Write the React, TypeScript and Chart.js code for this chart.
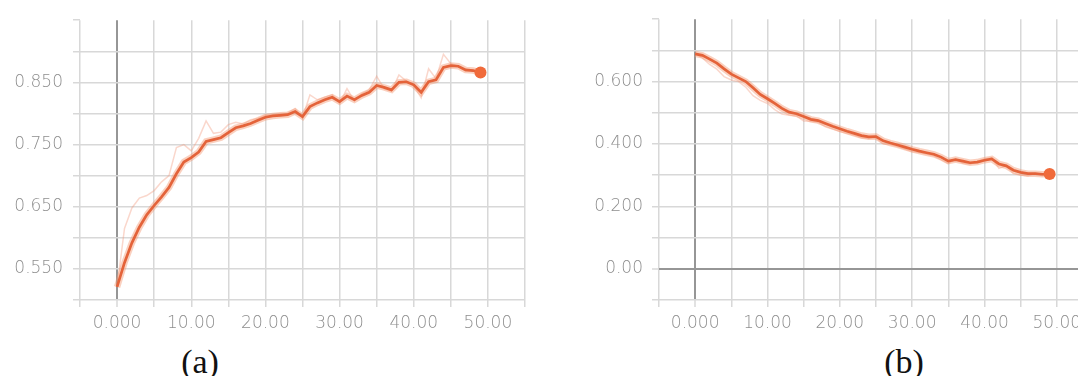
import React, { useEffect, useRef } from 'react';
import { Chart, registerables } from 'chart.js';

Chart.register(...registerables);

// ---------- data ----------
const epochs = [
  0, 1, 2, 3, 4, 5, 6, 7, 8, 9, 10, 11, 12, 13, 14, 15, 16, 17, 18, 19, 20, 21, 22, 23, 24,
  25, 26, 27, 28, 29, 30, 31, 32, 33, 34, 35, 36, 37, 38, 39, 40, 41, 42, 43, 44, 45, 46, 47, 48, 49,
];

const accSmoothed = [
  0.521, 0.56, 0.592, 0.617, 0.637, 0.652, 0.666, 0.681, 0.703, 0.722,
  0.729, 0.738, 0.755, 0.758, 0.761, 0.769, 0.777, 0.78, 0.784, 0.789,
  0.794, 0.796, 0.797, 0.798, 0.803, 0.795, 0.811, 0.817, 0.822, 0.826,
  0.819, 0.828, 0.822, 0.829, 0.834, 0.845, 0.842, 0.838, 0.85, 0.851,
  0.846, 0.834, 0.851, 0.854, 0.874, 0.877, 0.876, 0.87, 0.869, 0.866,
];

const accRaw = [
  0.521, 0.615, 0.648, 0.664, 0.668, 0.676, 0.69, 0.7, 0.745, 0.75,
  0.74, 0.76, 0.788, 0.768, 0.77, 0.782, 0.786, 0.783, 0.79, 0.792,
  0.797, 0.798, 0.8, 0.8, 0.808, 0.793, 0.83, 0.822, 0.826, 0.83,
  0.816, 0.84, 0.82, 0.832, 0.838, 0.86, 0.84, 0.836, 0.862, 0.852,
  0.845, 0.825, 0.872, 0.856, 0.895, 0.88, 0.876, 0.868, 0.87, 0.864,
];

const lossSmoothed = [
  0.689, 0.684, 0.672, 0.659, 0.641, 0.624, 0.612, 0.6, 0.58, 0.559,
  0.545, 0.53, 0.514, 0.502, 0.497, 0.488, 0.479, 0.475, 0.466, 0.457,
  0.449, 0.441, 0.434, 0.427, 0.423, 0.424, 0.41, 0.403, 0.397, 0.39,
  0.383, 0.377, 0.372, 0.367, 0.358, 0.345, 0.35, 0.345, 0.34, 0.342,
  0.348, 0.352, 0.336, 0.33, 0.316, 0.309, 0.305, 0.305, 0.303, 0.304,
];

const lossRaw = [
  0.689, 0.676, 0.655, 0.64, 0.616, 0.605, 0.6, 0.582, 0.555, 0.54,
  0.53, 0.51, 0.496, 0.492, 0.49, 0.474, 0.473, 0.47, 0.455, 0.448,
  0.44, 0.434, 0.428, 0.42, 0.418, 0.42, 0.4, 0.398, 0.392, 0.384,
  0.376, 0.373, 0.368, 0.362, 0.35, 0.338, 0.352, 0.338, 0.336, 0.344,
  0.352, 0.356, 0.322, 0.33, 0.305, 0.3, 0.298, 0.306, 0.298, 0.304,
];

const xLabelValues = [0, 10, 20, 30, 40, 50];
const xLabelTexts = ['0.000', '10.00', '20.00', '30.00', '40.00', '50.00'];
const accYLabelValues = [0.55, 0.65, 0.75, 0.85];
const accYLabelTexts = ['0.550', '0.650', '0.750', '0.850'];
const lossYLabelValues = [0, 0.2, 0.4, 0.6];
const lossYLabelTexts = ['0.00', '0.200', '0.400', '0.600'];
const panelLabels = ['(a)', '(b)'];

// ---------- styling ----------
const MAIN = '#e4633a';
const HALO = 'rgba(244,150,112,0.45)';
const RAW = 'rgba(242,150,120,0.38)';
const DOT = '#f06a3a';
const GRID = '#d8d8d8';
const ZERO = '#969696';
const TICK_FONT = { family: 'DejaVu Sans', size: 17, weight: '300' as any };
const TICK_COLOR = '#8e8e8e';

function labelFor(values: number[], texts: string[]) {
  return (value: number | string) => {
    const v = Number(value);
    const i = values.findIndex((t) => Math.abs(t - v) < 1e-6);
    return i >= 0 ? texts[i] : '';
  };
}

function toPoints(values: number[]) {
  return epochs.map((e, i) => ({ x: e, y: values[i] }));
}

interface PanelSpec {
  smoothed: number[];
  raw: number[];
  yMin: number;
  yMax: number;
  yStep: number;
  yLabelValues: number[];
  yLabelTexts: string[];
  yAxisWidth: number;
  yPad: number;
  padRight: number;
}

function makeConfig(p: PanelSpec): any {
  const last = p.smoothed.length - 1;
  const gridColor = (ctx: any) => {
    if (ctx.tick && Math.abs(ctx.tick.value) < 1e-9) return ZERO;
    return GRID;
  };
  const gridWidth = (ctx: any) => {
    if (ctx.tick && Math.abs(ctx.tick.value) < 1e-9) return 2;
    return 1.5;
  };
  return {
    type: 'line',
    data: {
      datasets: [
        {
          data: toPoints(p.smoothed),
          borderColor: MAIN,
          borderWidth: 2.7,
          pointRadius: p.smoothed.map((_, i) => (i === last ? 6 : 0)),
          pointBackgroundColor: DOT,
          pointBorderWidth: 0,
          tension: 0,
          order: 0,
        },
        {
          data: toPoints(p.smoothed),
          borderColor: HALO,
          borderWidth: 6.5,
          pointRadius: 0,
          tension: 0,
          order: 1,
        },
        {
          data: toPoints(p.raw),
          borderColor: RAW,
          borderWidth: 1.5,
          pointRadius: 0,
          tension: 0,
          order: 2,
        },
      ],
    },
    options: {
      animation: false,
      responsive: false,
      devicePixelRatio: 1,
      layout: { padding: { left: 0, top: 16, right: p.padRight, bottom: 0 } },
      plugins: { legend: { display: false }, tooltip: { enabled: false }, title: { display: false } },
      scales: {
        x: {
          type: 'linear',
          min: -5,
          max: 55,
          border: { display: false },
          grid: {
            color: gridColor,
            lineWidth: gridWidth,
            tickLength: 7,
            tickColor: GRID,
            tickWidth: 1.5,
          },
          ticks: {
            stepSize: 5,
            autoSkip: false,
            maxRotation: 0,
            padding: 6,
            color: TICK_COLOR,
            font: TICK_FONT,
            callback: labelFor(xLabelValues, xLabelTexts),
          },
          afterFit: (scale: any) => {
            scale.height = 40;
          },
        },
        y: {
          type: 'linear',
          min: p.yMin,
          max: p.yMax,
          border: { display: false },
          grid: {
            color: (ctx: any) => {
              if (ctx.tick && Math.abs(ctx.tick.value - p.yMax) < 1e-9) return 'rgba(0,0,0,0)';
              return gridColor(ctx);
            },
            lineWidth: gridWidth,
            tickLength: 7,
            tickColor: GRID,
            tickWidth: 1.5,
          },
          ticks: {
            stepSize: p.yStep,
            autoSkip: false,
            padding: p.yPad,
            color: TICK_COLOR,
            font: TICK_FONT,
            callback: labelFor(p.yLabelValues, p.yLabelTexts),
          },
          afterFit: (scale: any) => {
            scale.width = p.yAxisWidth;
          },
        },
      },
    },
  };
}

function Panel({ spec, left, width }: { spec: PanelSpec; left: number; width: number }) {
  const ref = useRef<HTMLCanvasElement | null>(null);
  useEffect(() => {
    if (!ref.current) return;
    const chart = new Chart(ref.current, makeConfig(spec));
    return () => chart.destroy();
  }, []);
  return (
    <canvas
      ref={ref}
      width={width}
      height={340}
      style={{ position: 'absolute', left, top: 0, width, height: 340, display: 'block' }}
    />
  );
}

const accSpec: PanelSpec = {
  smoothed: accSmoothed,
  raw: accRaw,
  yMin: 0.5,
  yMax: 0.95,
  yStep: 0.05,
  yLabelValues: accYLabelValues,
  yLabelTexts: accYLabelTexts,
  yAxisWidth: 80,
  yPad: 10,
  padRight: 15,
};

const lossSpec: PanelSpec = {
  smoothed: lossSmoothed,
  raw: lossRaw,
  yMin: -0.1,
  yMax: 0.8,
  yStep: 0.1,
  yLabelValues: lossYLabelValues,
  yLabelTexts: lossYLabelTexts,
  yAxisWidth: 119,
  yPad: 9,
  padRight: 17,
};

const captionStyle = (center: number): React.CSSProperties => ({
  position: 'absolute',
  left: center - 100,
  width: 200,
  top: 345,
  textAlign: 'center',
  fontFamily: '"Liberation Serif", "Times New Roman", serif',
  fontSize: 34,
  lineHeight: '34px',
  color: '#111',
});

export default function App() {
  return (
    <div
      style={{
        position: 'fixed',
        left: 0,
        top: 0,
        width: 1078,
        height: 376,
        overflow: 'hidden',
        background: '#ffffff',
      }}
    >
      <Panel spec={accSpec} left={0} width={540} />
      <Panel spec={lossSpec} left={540} width={570} />
      <div style={captionStyle(200)}>{panelLabels[0]}</div>
      <div style={captionStyle(904)}>{panelLabels[1]}</div>
    </div>
  );
}
